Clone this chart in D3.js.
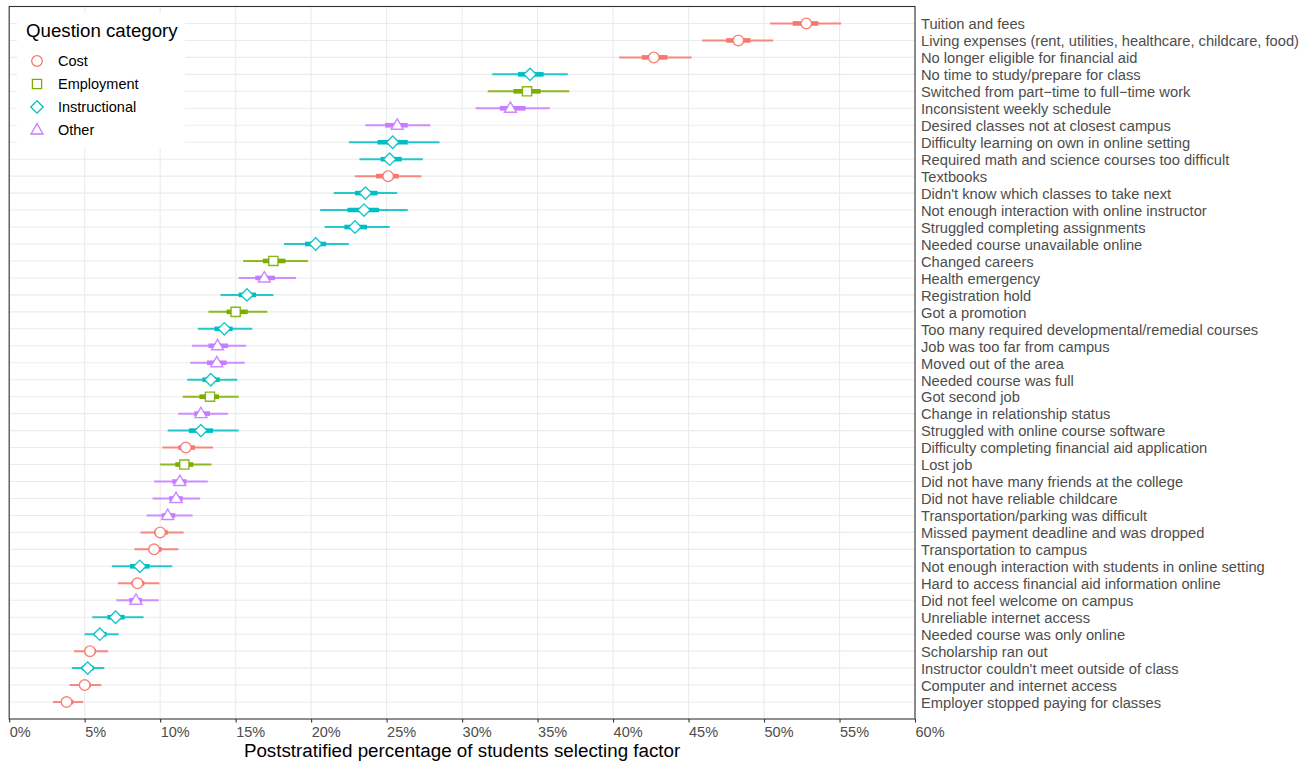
<!DOCTYPE html>
<html>
<head>
<meta charset="utf-8">
<script src="https://cdn.jsdelivr.net/npm/d3@7"></script>
<style>
  html, body { margin: 0; padding: 0; background: #fff; }
  svg { display: block; font-family: "Liberation Sans", Arial, Helvetica, sans-serif; }
</style>
</head>
<body>
<svg id="chart" width="1316" height="765"></svg>
<script>
// Reasons for stopping out, ordered from most to least selected
const factors = [
  "Tuition and fees",
  "Living expenses (rent, utilities, healthcare, childcare, food)",
  "No longer eligible for financial aid",
  "No time to study/prepare for class",
  "Switched from part\u2212time to full\u2212time work",
  "Inconsistent weekly schedule",
  "Desired classes not at closest campus",
  "Difficulty learning on own in online setting",
  "Required math and science courses too difficult",
  "Textbooks",
  "Didn't know which classes to take next",
  "Not enough interaction with online instructor",
  "Struggled completing assignments",
  "Needed course unavailable online",
  "Changed careers",
  "Health emergency",
  "Registration hold",
  "Got a promotion",
  "Too many required developmental/remedial courses",
  "Job was too far from campus",
  "Moved out of the area",
  "Needed course was full",
  "Got second job",
  "Change in relationship status",
  "Struggled with online course software",
  "Difficulty completing financial aid application",
  "Lost job",
  "Did not have many friends at the college",
  "Did not have reliable childcare",
  "Transportation/parking was difficult",
  "Missed payment deadline and was dropped",
  "Transportation to campus",
  "Not enough interaction with students in online setting",
  "Hard to access financial aid information online",
  "Did not feel welcome on campus",
  "Unreliable internet access",
  "Needed course was only online",
  "Scholarship ran out",
  "Instructor couldn't meet outside of class",
  "Computer and internet access",
  "Employer stopped paying for classes"
];

const categoryOf = [
  "Cost", "Cost", "Cost", "Instructional", "Employment", "Other",
  "Other", "Instructional", "Instructional", "Cost", "Instructional", "Instructional",
  "Instructional", "Instructional", "Employment", "Other", "Instructional", "Employment",
  "Instructional", "Other", "Other", "Instructional", "Employment", "Other",
  "Instructional", "Cost", "Employment", "Other", "Other", "Other",
  "Cost", "Cost", "Instructional", "Cost", "Other", "Instructional",
  "Instructional", "Cost", "Instructional", "Cost", "Cost"
];

// Poststratified estimate (%)
const estimate = [
  52.8, 48.3, 42.7, 34.5, 34.3, 33.2,
  25.7, 25.4, 25.2, 25.1, 23.6, 23.5,
  22.9, 20.3, 17.5, 16.9, 15.75, 15.0,
  14.25, 13.8, 13.75, 13.35, 13.3, 12.7,
  12.7, 11.7, 11.6, 11.3, 11.05, 10.5,
  10.0, 9.6, 8.65, 8.5, 8.4, 7.05,
  6.0, 5.35, 5.2, 5.0, 3.8
];

// 50% interval
const low50 = [
  51.9, 47.5, 41.9, 33.7, 33.4, 32.5,
  24.9, 24.4, 24.6, 24.3, 22.9, 22.4,
  22.2, 19.6, 16.8, 16.3, 15.2, 14.4,
  13.6, 13.2, 13.1, 12.8, 12.6, 12.25,
  11.9, 11.2, 11.0, 10.8, 10.6, 10.1,
  9.6, 9.25, 8.0, 8.1, 7.95, 6.5,
  5.65, 5.0, 4.8, 4.65, 3.45
];
const high50 = [
  53.6, 49.1, 43.6, 35.4, 35.2, 34.2,
  26.4, 26.4, 26.0, 25.8, 24.4, 24.5,
  23.7, 21.0, 18.3, 17.6, 16.35, 15.8,
  14.8, 14.5, 14.4, 13.95, 13.9, 13.3,
  13.5, 12.3, 12.2, 11.75, 11.5, 11.0,
  10.5, 10.1, 9.3, 8.95, 8.8, 7.65,
  6.45, 5.75, 5.6, 5.4, 4.25
];

// 95% interval
const low95 = [
  50.4, 45.9, 40.4, 32.0, 31.7, 30.9,
  23.6, 22.5, 23.2, 22.9, 21.5, 20.6,
  20.9, 18.2, 15.5, 15.2, 14.0, 13.2,
  12.5, 12.1, 12.0, 11.8, 11.5, 11.2,
  10.5, 10.15, 10.0, 9.6, 9.5, 9.1,
  8.7, 8.3, 6.8, 7.2, 7.1, 5.5,
  5.0, 4.3, 4.15, 4.0, 2.9
];
const high95 = [
  55.1, 50.6, 45.2, 37.0, 37.1, 35.8,
  27.9, 28.5, 27.4, 27.3, 25.7, 26.4,
  25.2, 22.5, 19.8, 19.0, 17.5, 17.1,
  16.1, 15.7, 15.6, 15.1, 15.2, 14.5,
  15.2, 13.5, 13.4, 13.15, 12.65, 12.15,
  11.55, 11.2, 10.8, 9.95, 9.9, 8.9,
  7.25, 6.55, 6.3, 6.1, 4.9
];

const categories = ["Cost", "Employment", "Instructional", "Other"];
const categoryColors = ["#F8766D", "#7CAE00", "#00BFC4", "#C77CFF"];

const xTicks = [0, 5, 10, 15, 20, 25, 30, 35, 40, 45, 50, 55, 60];

const rows = factors.map((f, i) => ({
  factor: f, category: categoryOf[i], est: estimate[i],
  lo50: low50[i], hi50: high50[i], lo95: low95[i], hi95: high95[i]
}));

const panel = { left: 9.2, right: 915, top: 6.5, bottom: 719 };

const svg = d3.select("#chart");

const x = d3.scaleLinear().domain([0, 60]).range([panel.left, panel.right]);
const y = d3.scalePoint().domain(factors).range([panel.top, panel.bottom]).padding(1);
const color = d3.scaleOrdinal().domain(categories).range(categoryColors);

// Shape path for each category, centred on (0,0)
function shapePath(cat) {
  if (cat === "Cost") {
    const r = 5.3;
    return `M${r},0A${r},${r} 0 1,1 ${-r},0A${r},${r} 0 1,1 ${r},0Z`;
  }
  if (cat === "Employment") {
    const h = 4.6;
    return `M${-h},${-h}H${h}V${h}H${-h}Z`;
  }
  if (cat === "Instructional") {
    const d = 6.2;
    return `M0,${-d}L${d},0L0,${d}L${-d},0Z`;
  }
  // Other: triangle pointing up
  const w = 6.0;
  return `M0,${-6.4}L${w},${4.0}L${-w},${4.0}Z`;
}

// Gridlines
const grid = svg.append("g");
grid.selectAll("line.h").data(factors).join("line")
  .attr("x1", panel.left).attr("x2", panel.right)
  .attr("y1", d => y(d)).attr("y2", d => y(d))
  .attr("stroke", "#ebebeb").attr("stroke-width", 1.1);
grid.selectAll("line.v").data(xTicks).join("line")
  .attr("x1", d => x(d)).attr("x2", d => x(d))
  .attr("y1", panel.top).attr("y2", panel.bottom)
  .attr("stroke", "#ebebeb").attr("stroke-width", 1.1);

// Intervals and point estimates
const marks = svg.append("g").selectAll("g").data(rows).join("g")
  .attr("transform", d => `translate(0,${y(d.factor)})`);

marks.append("line")
  .attr("x1", d => x(d.lo95)).attr("x2", d => x(d.hi95))
  .attr("stroke", d => color(d.category)).attr("stroke-opacity", 0.85)
  .attr("stroke-width", 2);
marks.append("line")
  .attr("x1", d => x(d.lo50)).attr("x2", d => x(d.hi50))
  .attr("stroke", d => color(d.category))
  .attr("stroke-width", 4.6);
marks.append("path")
  .attr("transform", d => `translate(${x(d.est)},0)`)
  .attr("d", d => shapePath(d.category))
  .attr("fill", "#fff")
  .attr("stroke", d => color(d.category)).attr("stroke-opacity", 0.9)
  .attr("stroke-width", 1.4);

// Panel border
svg.append("rect")
  .attr("x", panel.left).attr("y", panel.top)
  .attr("width", panel.right - panel.left).attr("height", panel.bottom - panel.top)
  .attr("fill", "none").attr("stroke", "#333").attr("stroke-width", 1.1);

// Bottom axis
const xAxis = svg.append("g")
  .attr("transform", `translate(0,${panel.bottom})`)
  .call(d3.axisBottom(x).tickValues(xTicks).tickFormat(d => d + "%").tickSize(3.5).tickPadding(4));
xAxis.select(".domain").remove();
xAxis.selectAll(".tick line").attr("stroke", "#333").attr("stroke-width", 1.1);
xAxis.selectAll(".tick text")
  .attr("text-anchor", "start")
  .attr("fill", "#4d4d4d")
  .style("font-size", "14.5px")
  .style("font-family", "'Liberation Sans', Arial, sans-serif");

// Factor labels on the right
const yAxis = svg.append("g")
  .attr("transform", `translate(${panel.right},0.6)`)
  .call(d3.axisRight(y).tickSize(0).tickPadding(6));
yAxis.select(".domain").remove();
yAxis.selectAll(".tick text")
  .attr("fill", "#4d4d4d")
  .style("font-size", "14.7px")
  .style("font-family", "'Liberation Sans', Arial, sans-serif");

// Axis title
svg.append("text")
  .attr("x", (panel.left + panel.right) / 2).attr("y", 757)
  .attr("text-anchor", "middle")
  .attr("fill", "#000")
  .style("font-size", "18.8px")
  .text("Poststratified percentage of students selecting factor");

// Legend
const legend = svg.append("g");
legend.append("rect")
  .attr("x", 17).attr("y", 13).attr("width", 168).attr("height", 135)
  .attr("fill", "#fff");
legend.append("text")
  .attr("x", 26).attr("y", 37)
  .attr("fill", "#000")
  .style("font-size", "18.7px")
  .text("Question category");
const items = legend.selectAll("g.item").data(categories).join("g")
  .attr("class", "item")
  .attr("transform", (d, i) => `translate(37,${61 + i * 23})`);
items.append("path")
  .attr("d", d => shapePath(d))
  .attr("fill", "none")
  .attr("stroke", d => color(d))
  .attr("stroke-width", 1.3);
items.append("text")
  .attr("x", 21).attr("dy", "0.35em")
  .attr("fill", "#000")
  .style("font-size", "14.5px")
  .text(d => d);
</script>
</body>
</html>
